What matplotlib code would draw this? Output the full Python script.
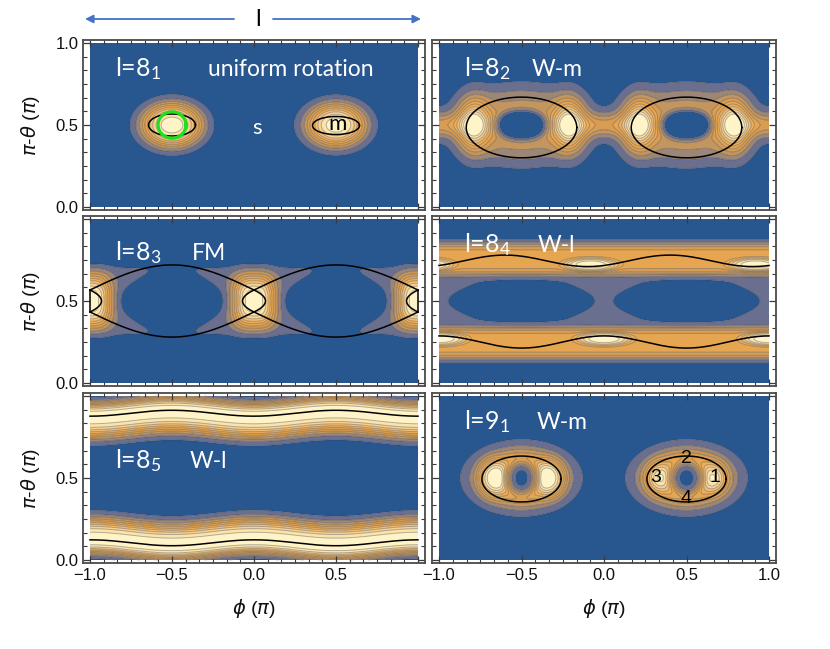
import numpy as np
import matplotlib
matplotlib.use('Agg')
import matplotlib.pyplot as plt
from matplotlib.colors import LinearSegmentedColormap
from matplotlib.ticker import MultipleLocator, FixedLocator, FixedFormatter

plt.rcParams['font.family'] = ['Liberation Sans', 'DejaVu Sans']
plt.rcParams['mathtext.fontset'] = 'custom'
plt.rcParams['mathtext.rm'] = 'Lato'
plt.rcParams['mathtext.it'] = 'Lato:italic'
plt.rcParams['mathtext.bf'] = 'Lato:bold'

# ---------------- data ----------------
phi_ticks = [-1.0, -0.5, 0.0, 0.5, 1.0]
phi_labels_left = ['\u22121.0', '\u22120.5', '0.0', '0.5', '']
phi_labels_right = ['\u22121.0', '\u22120.5', '0.0', '0.5', '1.0']
theta_ticks = [0.0, 0.5, 1.0]
theta_labels_top = ['0.0', '0.5', '1.0']
theta_labels_lower = ['0.0', '0.5', '']

contour_levels = [0.05, 0.15, 0.25, 0.35, 0.45, 0.55, 0.65, 0.75, 0.85, 0.95]
palette_stops = [0.0, 0.1, 0.2, 0.3, 0.45, 0.6, 0.75, 0.9, 1.0]
palette_colors = ['#28568f', '#6b6f90', '#9c8777', '#c5965f', '#e2a04d', '#eeae58',
                  '#f5c988', '#fbe3ab', '#fff3c8']

panel_names = ['l=8$_{1}$', 'l=8$_{2}$', 'l=8$_{3}$', 'l=8$_{4}$', 'l=8$_{5}$', 'l=9$_{1}$']
panel_modes = ['uniform rotation', 'W-m', 'FM', 'W-l', 'W-l', 'W-m']
name_pos_phi = [-0.85, -0.85, -0.85, -0.85, -0.85, -0.85]
name_pos_th = [0.80, 0.80, 0.75, 0.80, 0.56, 0.80]
mode_pos_phi = [-0.28, -0.44, -0.38, -0.40, -0.39, -0.41]

# panel 1 (8_1): two isolated islands
p1_phi = [-0.5, 0.5]
p1_th = [0.5, 0.5]
p1_amp = [1.0, 1.0]
p1_wx = [0.178, 0.172]
p1_wy = [0.129, 0.125]
p1_px = [2, 2]
p1_py = [2, 2]
p1_q = [1.5, 1.4]
p1_sep_phi = [-0.5, 0.5]
p1_sep_th = [0.5, 0.497]
p1_sep_hw = [0.143, 0.143]
p1_sep_hh = [0.067, 0.055]
p1_green_phi = -0.5
p1_green_th = 0.5
p1_green_hw = 0.085
p1_green_hh = 0.08

# panel 2 (8_2): chain of islands with holes
p2_phi = [-0.5, 0.5, -0.5, 0.5, -0.79, -0.21, 0.21, 0.79, 0.0, 1.0]
p2_th = [0.5] * 10
p2_amp = [0.3, 0.3, -0.5, -0.5, 0.8, 0.8, 0.8, 0.8, 0.35, 0.35]
p2_wx = [0.4, 0.4, 0.165, 0.165, 0.09, 0.09, 0.09, 0.09, 0.3, 0.3]
p2_wy = [0.229, 0.229, 0.09, 0.09, 0.15, 0.15, 0.15, 0.15, 0.07, 0.07]
p2_px = [2] * 10
p2_py = [2] * 10
p2_q = [2, 2, 2.5, 2.5, 1, 1, 1, 1, 1, 1]
p2_sep_phi = [-0.5, 0.5]
p2_sep_th = [0.485, 0.485]
p2_sep_hw = [0.335, 0.335]
p2_sep_hh = [0.185, 0.185]

# panel 3 (8_3): FM islands at phi = 0, +-1
p3_phi = [0.0, 1.0]
p3_th = [0.5, 0.5]
p3_amp = [0.9, 0.9]
p3_wx = [0.121, 0.121]
p3_wy = [0.153, 0.153]
p3_px = [3, 3]
p3_py = [3, 3]
p3_q = [1, 1]
p3_hg_phi = [0.0, 1.0]
p3_hg_th = [0.5, 0.5]
p3_hg_amp = [0.12, 0.12]
p3_hg_w0 = [0.18, 0.18]
p3_hg_w2 = [0.26, 0.26]
p3_hg_hc = [0.2, 0.2]
p3_hg_hd = [0.205, 0.205]
p3_hg_pphi = [6, 6]
p3_hg_pth = [8, 8]
p3_necks = [-1.0, 0.0, 1.0]
p3_saddle_offset = 0.067
p3_arch_amp = 0.153
p3_inner_halfwidth = 0.07

# panel 4 (8_4): two librating bands
p4_band_amp = 0.5
p4_band_d0 = 0.258
p4_band_mod = 0.0
p4_band_win = 0.098
p4_band_wout = 0.095
p4_band_q = 2.0
p4_phi = [-0.08, 0.92, 0.0, 1.0]
p4_th = [0.72, 0.72, 0.27, 0.27]
p4_amp = [0.5, 0.5, 0.5, 0.5]
p4_wx = [0.16, 0.16, 0.16, 0.16]
p4_wy = [0.042, 0.042, 0.042, 0.042]
p4_px = [2] * 4
p4_py = [2] * 4
p4_q = [2] * 4
p4_hg_phi = [0.0, 1.0]
p4_hg_th = [0.5, 0.5]
p4_hg_amp = [0.12, 0.12]
p4_hg_w0 = [0.059, 0.059]
p4_hg_w2 = [0.33, 0.33]
p4_hg_hc = [0.14, 0.14]
p4_hg_hd = [0.16, 0.16]
p4_hg_pphi = [2, 2]
p4_hg_pth = [4, 4]
p4_sep_center = [0.745, 0.25]
p4_sep_amp = [-0.035, 0.037]
p4_sep_shift = [0.1, 0.0]

# panel 5 (8_5): bands near the poles
p5_band_amp = 1.0
p5_band_d0 = 0.395
p5_band_mod = 0.018
p5_band_win = 0.125
p5_band_wout = 0.08
p5_band_q = 1.5

# panel 6 (9_1): islands with a central hole
p6_phi = [-0.5, 0.5, -0.675, -0.325, 0.325, 0.675, -0.5, 0.5]
p6_th = [0.5] * 8
p6_amp = [0.75, 0.75, 0.52, 0.52, 0.38, 0.38, -0.72, -0.72]
p6_wx = [0.266, 0.266, 0.085, 0.085, 0.07, 0.07, 0.1, 0.1]
p6_wy = [0.169, 0.169, 0.11, 0.11, 0.09, 0.09, 0.1, 0.1]
p6_px = [2] * 8
p6_py = [2] * 8
p6_q = [1.5, 1.5, 1.4, 1.4, 1.2, 1.2, 2, 2]
p6_sep_phi = [-0.5, 0.5]
p6_sep_th = [0.494, 0.494]
p6_sep_hw = [0.24, 0.24]
p6_sep_hh = [0.14, 0.14]
p6_num_text = ['2', '3', '1', '4']
p6_num_phi = [0.497, 0.315, 0.67, 0.497]
p6_num_th = [0.62, 0.50, 0.50, 0.378]

# ---------------- field builders ----------------
phi = np.linspace(-1, 1, 801)
th = np.linspace(0, 1, 401)
PHI, TH = np.meshgrid(phi, th)


def wrap(d):
    return np.mod(d + 1.0, 2.0) - 1.0


def field_blobs(phi0, th0, amp, wx, wy, px, py, q):
    F = np.zeros_like(PHI)
    for i in range(len(phi0)):
        dphi = wrap(PHI - phi0[i])
        dth = TH - th0[i]
        r = np.abs(dphi / wx[i]) ** px[i] + np.abs(dth / wy[i]) ** py[i]
        F += amp[i] * np.exp(-r ** q[i])
    return F


def field_hourglass(phi0, th0, amp, w0, w2, hc, hd, pphi, pth):
    F = np.zeros_like(PHI)
    for i in range(len(phi0)):
        dphi = wrap(PHI - phi0[i])
        dth = TH - th0[i]
        w = w0[i] + w2[i] * (dth / hc[i]) ** 2
        F += amp[i] * np.exp(-np.abs(dphi / w) ** pphi[i] - np.abs(dth / hd[i]) ** pth[i])
    return F


def field_band(amp, d0, mod, w_in, w_out, q):
    d = np.abs(TH - 0.5)
    c = d0 - mod * np.cos(2 * np.pi * PHI)
    x = d - c
    w = np.where(x < 0, w_in, w_out)
    return amp * np.exp(-np.abs(x / w) ** (2 * q))


fields = [
    field_blobs(p1_phi, p1_th, p1_amp, p1_wx, p1_wy, p1_px, p1_py, p1_q),
    field_blobs(p2_phi, p2_th, p2_amp, p2_wx, p2_wy, p2_px, p2_py, p2_q),
    field_blobs(p3_phi, p3_th, p3_amp, p3_wx, p3_wy, p3_px, p3_py, p3_q)
    + field_hourglass(p3_hg_phi, p3_hg_th, p3_hg_amp, p3_hg_w0, p3_hg_w2, p3_hg_hc,
                      p3_hg_hd, p3_hg_pphi, p3_hg_pth),
    field_band(p4_band_amp, p4_band_d0, p4_band_mod, p4_band_win, p4_band_wout, p4_band_q)
    + field_blobs(p4_phi, p4_th, p4_amp, p4_wx, p4_wy, p4_px, p4_py, p4_q)
    + field_hourglass(p4_hg_phi, p4_hg_th, p4_hg_amp, p4_hg_w0, p4_hg_w2, p4_hg_hc,
                      p4_hg_hd, p4_hg_pphi, p4_hg_pth),
    field_band(p5_band_amp, p5_band_d0, p5_band_mod, p5_band_win, p5_band_wout, p5_band_q),
    field_blobs(p6_phi, p6_th, p6_amp, p6_wx, p6_wy, p6_px, p6_py, p6_q),
]

cmap = LinearSegmentedColormap.from_list('m10', list(zip(palette_stops, palette_colors)))
nb = len(contour_levels) + 1
band_colors = [cmap(k / (nb - 1)) for k in range(nb)]
fill_levels = [-100] + contour_levels + [100]

# ---------------- layout ----------------
W, H = 830, 649
fig = plt.figure(figsize=(W / 100, H / 100), dpi=100)
rows_px = [(43, 207), (219, 383), (396, 560)]
cols_px = [(90, 418), (439, 769)]
padx, pady = 0.042, 0.02

axes = []
for r in range(3):
    for c in range(2):
        x0, x1 = cols_px[c]
        y0, y1 = rows_px[r]
        sx = (x1 - x0) / 2.0
        sy = (y1 - y0) / 1.0
        L = x0 - padx * sx
        R = x1 + padx * sx
        T = y0 - pady * sy
        B = y1 + pady * sy
        ax = fig.add_axes([L / W, 1 - B / H, (R - L) / W, (B - T) / H])
        ax.set_xlim(-1 - padx, 1 + padx)
        ax.set_ylim(-pady, 1 + pady)
        axes.append(ax)

line_col = (0.18, 0.18, 0.18, 0.38)
for i, ax in enumerate(axes):
    F = fields[i]
    ax.contourf(PHI, TH, F, levels=fill_levels, colors=band_colors, antialiased=True)
    ax.contour(PHI, TH, F, levels=contour_levels, colors=[line_col], linewidths=0.65)
    ax.set_facecolor('white')
    for sp in ax.spines.values():
        sp.set_color('#4a4a4a')
        sp.set_linewidth(1.3)
    ax.xaxis.set_major_locator(FixedLocator(phi_ticks))
    ax.yaxis.set_major_locator(FixedLocator(theta_ticks))
    ax.xaxis.set_minor_locator(MultipleLocator(1 / 12))
    ax.yaxis.set_minor_locator(MultipleLocator(1 / 12))
    ax.tick_params(which='both', direction='in', top=True, right=True, color='#3a3a3a',
                   labelsize=12, labelcolor='#111111')
    ax.tick_params(which='major', length=5, width=0.9)
    ax.tick_params(which='minor', length=3, width=0.8)
    r, c = divmod(i, 2)
    if r == 2:
        ax.xaxis.set_major_formatter(FixedFormatter(phi_labels_left if c == 0 else phi_labels_right))
    else:
        ax.set_xticklabels([])
    if c == 0:
        ax.yaxis.set_major_formatter(FixedFormatter(theta_labels_top if r == 0 else theta_labels_lower))
    else:
        ax.set_yticklabels([])
    ax.text(name_pos_phi[i], name_pos_th[i], panel_names[i], color='white', fontsize=18,
            family='Lato', va='baseline', ha='left')
    ax.text(mode_pos_phi[i], name_pos_th[i], panel_modes[i], color='white', fontsize=16.5,
            family='Lato', va='baseline', ha='left')

t = np.linspace(0, 2 * np.pi, 300)
sep_kw = dict(color='black', lw=1.1)

# panel 1
ax = axes[0]
for k in range(len(p1_sep_phi)):
    ax.plot(p1_sep_phi[k] + p1_sep_hw[k] * np.cos(t), p1_sep_th[k] + p1_sep_hh[k] * np.sin(t), **sep_kw)
ax.plot(p1_green_phi + p1_green_hw * np.cos(t), p1_green_th + p1_green_hh * np.sin(t),
        color='#1fe01f', lw=2.3)
ax.text(0.02, 0.48, 's', color='white', fontsize=16, family='Lato', ha='center', va='center')
ax.text(0.51, 0.505, 'm', color='black', fontsize=16, family='Lato', ha='center', va='center')

# panel 2
ax = axes[1]
for k in range(len(p2_sep_phi)):
    ax.plot(p2_sep_phi[k] + p2_sep_hw[k] * np.cos(t), p2_sep_th[k] + p2_sep_hh[k] * np.sin(t), **sep_kw)

# panel 3: arches between saddles and small loops through the saddles
ax = axes[2]
arch = 0.5 + p3_saddle_offset + p3_arch_amp * np.abs(np.sin(np.pi * phi))
ax.plot(phi, arch, **sep_kw)
ax.plot(phi, 1.0 - arch, **sep_kw)
tt = np.linspace(0.5 - p3_saddle_offset, 0.5 + p3_saddle_offset, 200)
bulge = p3_inner_halfwidth * (1 - ((tt - 0.5) / p3_saddle_offset) ** 2)
for n0 in p3_necks:
    for sgn in (-1, 1):
        xx = n0 + sgn * bulge
        m = (xx >= -1) & (xx <= 1)
        ax.plot(xx[m], tt[m], **sep_kw)

# panel 4
ax = axes[3]
for k in range(len(p4_sep_center)):
    ax.plot(phi, p4_sep_center[k] + p4_sep_amp[k] * np.cos(2 * np.pi * (phi + p4_sep_shift[k])), **sep_kw)

# panel 5
ax = axes[4]
dc = p5_band_d0 - p5_band_mod * np.cos(2 * np.pi * phi)
ax.plot(phi, 0.5 + dc, **sep_kw)
ax.plot(phi, 0.5 - dc, **sep_kw)

# panel 6
ax = axes[5]
for k in range(len(p6_sep_phi)):
    ax.plot(p6_sep_phi[k] + p6_sep_hw[k] * np.cos(t), p6_sep_th[k] + p6_sep_hh[k] * np.sin(t), **sep_kw)
for k in range(len(p6_num_text)):
    ax.text(p6_num_phi[k], p6_num_th[k], p6_num_text[k], color='black', fontsize=14,
            family='Liberation Sans', ha='center', va='center')

# axis labels
for r in range(3):
    yc = (rows_px[r][0] + rows_px[r][1]) / 2.0
    fig.text(30 / W, 1 - yc / H, r'$\pi$-$\theta$ ($\pi$)', rotation=90, ha='center', va='center',
             fontsize=14, math_fontfamily='dejavusans', color='#111111')
for c in range(2):
    xc = (cols_px[c][0] + cols_px[c][1]) / 2.0
    fig.text(xc / W, 1 - 608 / H, r'$\phi$ ($\pi$)', ha='center', va='center',
             fontsize=14, math_fontfamily='dejavusans', color='#111111')

# top arrows
ov = fig.add_axes([0, 0, 1, 1], zorder=10)
ov.set_xlim(0, W)
ov.set_ylim(H, 0)
ov.axis('off')
ov.patch.set_alpha(0)
akw = dict(arrowstyle='-|>', color='#4472c4', lw=1.3, mutation_scale=12, shrinkA=0, shrinkB=0)
ov.annotate('', xy=(85, 19), xytext=(234, 19), arrowprops=akw)
ov.annotate('', xy=(421, 19), xytext=(273, 19), arrowprops=akw)
ov.text(258, 19, 'l', fontsize=17, family='Lato', ha='center', va='center', color='black')

fig.savefig('out.png', dpi=100)
